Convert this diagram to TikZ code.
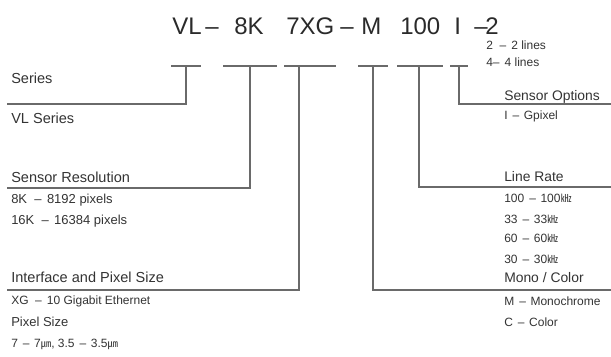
\documentclass[tikz,border=0pt]{standalone}
\usepackage{fontspec}
\setmainfont{Liberation Sans}
\newfontfamily\cjk{Noto Sans CJK KR}
\definecolor{inkgray}{HTML}{333333}
\definecolor{codeink}{HTML}{2A2A2A}
\definecolor{linegray}{HTML}{6A6A6A}
\tikzset{
  codepart/.style={anchor=base west, inner sep=0pt, text=codeink, font=\fontsize{18}{20}\selectfont},
  heading/.style={anchor=base west, inner sep=0pt, text=inkgray, font=\fontsize{10.9}{12}\selectfont},
  rheading/.style={heading, font=\fontsize{10.4}{12}\selectfont},
  entry/.style={anchor=base west, inner sep=0pt, text=inkgray, font=\fontsize{9.75}{11}\selectfont},
  smallentry/.style={anchor=base west, inner sep=0pt, text=inkgray, font=\fontsize{9}{10}\selectfont},
  underbar/.style={draw=linegray, line width=1.05pt},
  wire/.style={draw=linegray, line width=1.05pt},
}
% spaced dashes between a code and its meaning
\newcommand{\dd}{\hspace{0.55em}–\hspace{0.42em}}
\newcommand{\ds}{\hspace{0.42em}–\hspace{0.38em}}
\newcommand{\khz}{{\cjk\fontsize{8.2}{9}\selectfont ㎑}}
\newcommand{\micron}{{\cjk\fontsize{7.8}{9}\selectfont ㎛}}
\begin{document}
\begin{tikzpicture}[x=0.75pt, y=-0.75pt]
  \useasboundingbox (0,0) rectangle (611,357);

  % part number
  \node[codepart] (cVL)  at (172,35) {VL};
  \node[codepart] (cD1)  at (205,35) {–};
  \node[codepart] (c8K)  at (234,35) {8K};
  \node[codepart] (c7XG) at (286,35) {7XG};
  \node[codepart] (cD2)  at (340,35) {–};
  \node[codepart] (cM)   at (361,35) {M};
  \node[codepart] (c100) at (400,35) {100};
  \node[codepart] (cI)   at (454,35) {I};
  \node[codepart] (cD3)  at (474,35) {–};
  \node[codepart] (c2)   at (485,35) {2};
  \node[smallentry] (lines2) at (486,50) {2\dd 2 lines};
  \node[smallentry] (lines4) at (486,66) {4–\hspace{0.42em}4 lines};

  % bars under each field, with their tap points
  \draw[underbar] (171,66) -- (201,66);  \coordinate (t1) at (186,66);
  \draw[underbar] (223,66) -- (277,66);  \coordinate (t2) at (250,66);
  \draw[underbar] (284,66) -- (336,66);  \coordinate (t3) at (299,66);
  \draw[underbar] (358,66) -- (388,66);  \coordinate (t4) at (373,66);
  \draw[underbar] (397,66) -- (443,66);  \coordinate (t5) at (419,66);
  \draw[underbar] (450,66) -- (468,66);  \coordinate (t6) at (459,66);

  % line ends at the margins
  \coordinate (e1) at (7,104);
  \coordinate (e2) at (7,188);
  \coordinate (e3) at (7,290);
  \coordinate (e4) at (611,290);
  \coordinate (e5) at (611,187);
  \coordinate (e6) at (611,104);

  \draw[wire] (t1) |- (e1);
  \draw[wire] (t2) |- (e2);
  \draw[wire] (t3) |- (e3);
  \draw[wire] (t4) |- (e4);
  \draw[wire] (t5) |- (e5);
  \draw[wire] (t6) |- (e6);

  % left side
  \node[heading] (series)  at (11,83)  {Series};
  \node[heading] (vl)      at (11,123) {VL Series};
  \node[heading] (res)     at (11,182) {Sensor Resolution};
  \node[entry]   (r8)      at (11,203) {8K\dd 8192 pixels};
  \node[entry]   (r16)     at (11,224) {16K\dd 16384 pixels};
  \node[heading] (iface)   at (11,282) {Interface and Pixel Size};
  \node[smallentry] (xg)   at (11,304) {XG\dd 10 Gigabit Ethernet};
  \node[entry]   (psize)   at (11,326) {Pixel Size};
  \node[smallentry] (pvals) at (11,347) {7\ds 7\micron, 3.5\ds 3.5\micron};

  % right side
  \node[rheading]   (opts) at (504,100) {Sensor Options};
  \node[smallentry] (gpix) at (504,119) {I\ds Gpixel};
  \node[rheading]   (rate) at (504,181) {Line Rate};
  \node[smallentry] (r100) at (504,202) {100\ds 100\khz};
  \node[smallentry] (r33)  at (504,223) {33\ds 33\khz};
  \node[smallentry] (r60)  at (504,242) {60\ds 60\khz};
  \node[smallentry] (r30)  at (504,263) {30\ds 30\khz};
  \node[rheading]   (mono) at (504,282) {Mono / Color};
  \node[smallentry] (mchr) at (504,305) {M\ds Monochrome};
  \node[smallentry] (ccol) at (504,326) {C\ds Color};
\end{tikzpicture}
\end{document}
